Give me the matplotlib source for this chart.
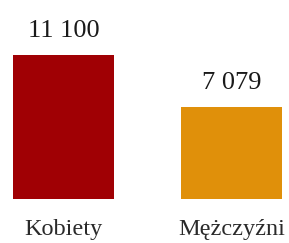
import matplotlib
matplotlib.use("Agg")
import matplotlib.pyplot as plt

categories = ["Kobiety", "Mężczyźni"]
values = [11100, 7079]
value_labels = ["11 100", "7 079"]
bar_colors = ["#a00004", "#e0900a"]

plt.rcParams['font.family'] = ['Liberation Serif', 'DejaVu Serif']

fig = plt.figure(figsize=(2.89, 2.43), dpi=100)
ax = fig.add_axes([0, 0, 1, 1])

x = list(range(len(categories)))
ax.bar(x, values, width=0.6, color=bar_colors)

for xi, v, lab in zip(x, values, value_labels):
    ax.annotate(lab, (xi, v), xytext=(0, 13), textcoords='offset points',
                ha='center', va='baseline', fontsize=19, color='#1a1a1a')

for xi, cat in zip(x, categories):
    ax.annotate(cat, (xi, 0), xytext=(0, -26), textcoords='offset points',
                ha='center', va='baseline', fontsize=17.5, color='#2a2a2a')

ax.set_xlim(-0.378, 1.342)
ax.set_ylim(-3392, 15339)
ax.axis('off')

fig.savefig("out.png", dpi=100, facecolor='white')
